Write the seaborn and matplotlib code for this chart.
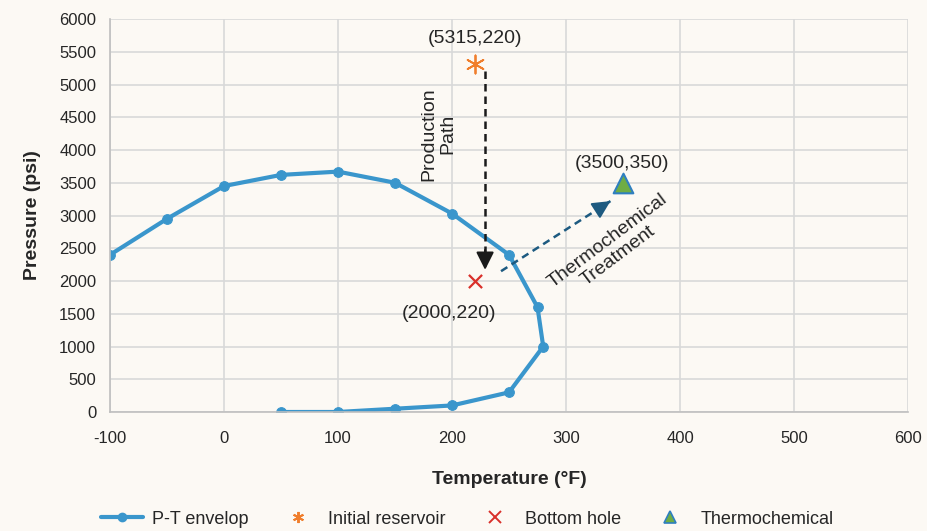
import matplotlib
matplotlib.use("Agg")
import matplotlib.pyplot as plt
import seaborn as sns
import pandas as pd
from matplotlib.lines import Line2D

# P-T envelope traced around the phase boundary
env_temp = [-100, -50, 0, 50, 100, 150, 200, 250, 275, 280, 250, 200, 150, 100, 50]
env_pres = [2400, 2950, 3450, 3620, 3670, 3500, 3030, 2400, 1600, 1000, 300, 100, 50, 0, 0]

# Operating points (temperature, pressure)
init_temp, init_pres = [220], [5315]
bottom_temp, bottom_pres = [220], [2000]
thermo_temp, thermo_pres = [350], [3500]

x_ticks = [-100, 0, 100, 200, 300, 400, 500, 600]
y_ticks = list(range(0, 6001, 500))

bg = "#FCF9F4"
sns.set_theme(style="whitegrid", rc={
    "axes.facecolor": bg, "figure.facecolor": bg,
    "grid.color": "#D9D9D9", "grid.linewidth": 1.2,
    "axes.edgecolor": "#BFBFBF", "axes.unicode_minus": False,
})
plt.rcParams["font.family"] = ["Liberation Sans", "DejaVu Sans"]

fig = plt.figure(figsize=(9.27, 5.31), dpi=100)
ax = fig.add_axes([0.1187, 0.2241, 0.8608, 0.7401])

env = pd.DataFrame({"T": env_temp, "P": env_pres})
blue = "#3A96CC"
sns.lineplot(data=env, x="T", y="P", sort=False, estimator=None, ax=ax, color=blue,
             lw=3, marker="o", markersize=7, markeredgecolor=blue, legend=False)

star = (6, 2, 0)
sns.scatterplot(x=init_temp, y=init_pres, ax=ax, marker=star, s=170,
                edgecolor="#F07E2C", color="#F07E2C", linewidth=1.3, zorder=5, legend=False)
sns.scatterplot(x=bottom_temp, y=bottom_pres, ax=ax, marker="x", s=90,
                color="#D9302A", linewidth=1.6, zorder=5, legend=False)
sns.scatterplot(x=thermo_temp, y=thermo_pres, ax=ax, marker="^", s=200,
                color="#6FAD45", edgecolor="#2F7FC0", linewidth=1.5, zorder=5, legend=False)


def dashed_arrow(x0, y0, x1, y1, color):
    """Dashed shaft with a solid filled head."""
    ax.plot([x0, x1], [y0, y1], color=color, lw=1.8, ls=(0, (3, 2)), zorder=4)
    ax.annotate("", xy=(x1, y1), xytext=(x0 + (x1 - x0) * 0.9, y0 + (y1 - y0) * 0.9),
                arrowprops=dict(arrowstyle="-|>,head_length=0.9,head_width=0.45",
                                color=color, lw=1.5, shrinkA=0, shrinkB=0), zorder=4)


dashed_arrow(229, 5200, 229, 2170, "#1A1A1A")
dashed_arrow(243, 2150, 339, 3220, "#1D5A80")

txt = dict(fontsize=14, color="#262626")
ax.text(220, 5700, "(5315,220)", ha="center", va="center", **txt)
ax.text(349, 3790, "(3500,350)", ha="center", va="center", **txt)
ax.text(197, 1510, "(2000,220)", ha="center", va="center", **txt)
ax.text(188, 4240, "Production\nPath", ha="center", va="center", rotation=90,
        linespacing=1.1, **txt)
ax.text(341, 2500, "Thermochemical\nTreatment", ha="center", va="center", rotation=37,
        linespacing=1.1, rotation_mode="anchor", **txt)

ax.set_xlim(-100, 600)
ax.set_ylim(0, 6000)
ax.set_xticks(x_ticks)
ax.set_yticks(y_ticks)
ax.tick_params(labelsize=12, colors="#262626", length=0)
ax.tick_params(axis="x", pad=14)
ax.tick_params(axis="y", pad=10)
for s in ["top", "right"]:
    ax.spines[s].set_visible(False)
for s in ["left", "bottom"]:
    ax.spines[s].set_color("#BFBFBF")
    ax.spines[s].set_linewidth(1.2)

ax.set_xlabel("Temperature (°F)", fontsize=14, fontweight="bold", color="#262626", labelpad=18)
ax.set_ylabel("Pressure (psi)", fontsize=14, fontweight="bold", color="#262626", labelpad=13)

handles = [
    Line2D([], [], color=blue, lw=3, marker="o", markersize=6, label="P-T envelop"),
    Line2D([], [], ls="none", marker=star, markersize=8, markeredgecolor="#F07E2C",
           markeredgewidth=1.4, label="Initial reservoir"),
    Line2D([], [], ls="none", marker="x", markersize=8, markeredgecolor="#D9302A",
           markeredgewidth=1.4, label="Bottom hole"),
    Line2D([], [], ls="none", marker="^", markersize=8, markerfacecolor="#6FAD45",
           markeredgecolor="#2F7FC0", markeredgewidth=1.2, label="Thermochemical"),
]
fig.legend(handles=handles, loc="center", bbox_to_anchor=(0.504, 0.022), ncol=4,
           frameon=False, fontsize=13, handlelength=2.3, columnspacing=1.6,
           handletextpad=0.5, labelcolor="#262626")

fig.savefig("out.png", dpi=100, facecolor=bg)
